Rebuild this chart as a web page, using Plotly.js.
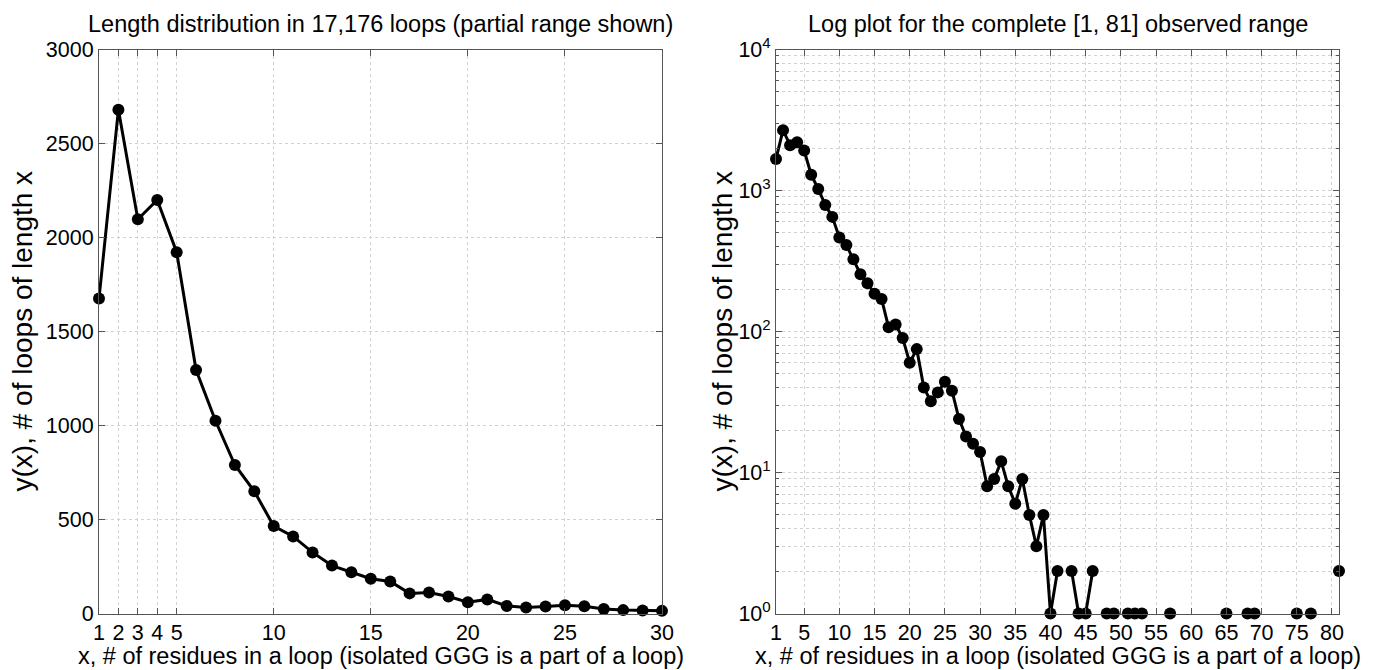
<!DOCTYPE html>
<html><head><meta charset="utf-8">
<script src="https://cdn.plot.ly/plotly-3.0.1.min.js"></script>
<style>html,body{margin:0;padding:0;background:#fff}#chart{width:1379px;height:670px}</style>
</head><body><div id="chart"></div>
<script>
// loop length (residues) and number of loops observed at that length (0 = none observed)
const loopLength = [];
for (let i = 1; i <= 81; i++) loopLength.push(i);
const loopCount = [
  1675, 2680, 2097, 2200, 1922, 1295, 1025, 790, 650, 465,
  410, 325, 255, 220, 185, 170, 107, 112, 90, 60,
  75, 40, 32, 37, 44, 38, 24, 18, 16, 14,
  8, 9, 12, 8, 6, 9, 5, 3, 5, 1,
  2, 0, 2, 1, 1, 2, 0, 1, 1, 0,
  1, 1, 1, 0, 0, 0, 1, 0, 0, 0,
  0, 0, 0, 0, 1, 0, 0, 1, 1, 0,
  0, 0, 0, 0, 1, 0, 1, 0, 0, 0,
  2
];
const partialMax = 30;
const leftXTicks = [1, 2, 3, 4, 5, 10, 15, 20, 25, 30];
const leftYTicks = [0, 500, 1000, 1500, 2000, 2500, 3000];
const rightXTicks = [1, 5, 10, 15, 20, 25, 30, 35, 40, 45, 50, 55, 60, 65, 70, 75, 80];
const rightYTicks = [1, 10, 100, 1000, 10000];
const rightYTickText = ['10<sup>0</sup>', '10<sup>1</sup>', '10<sup>2</sup>', '10<sup>3</sup>', '10<sup>4</sup>'];
const minorLog = [];
for (let d = 1; d <= 1000; d *= 10) for (let m = 2; m <= 9; m++) minorLog.push(m * d);

const titleLeft = 'Length distribution in 17,176 loops (partial range shown)';
const titleRight = 'Log plot for the complete [1, 81] observed range';
const xTitle = 'x, # of residues in a loop (isolated GGG is a part of a loop)';
const yTitle = 'y(x), # of loops of length x';

const partX = loopLength.slice(0, partialMax);
const partY = loopCount.slice(0, partialMax);
const logY = loopCount.map(v => v > 0 ? v : null);

const FONT = '"Liberation Sans", Arial, Helvetica, sans-serif';
const lineStyle = {color: '#000', width: 3};
const markerStyle = {color: '#000', size: 12};

const traces = [
  {x: partX, y: partY, type: 'scatter', mode: 'lines+markers', line: lineStyle, marker: markerStyle,
   xaxis: 'x', yaxis: 'y', cliponaxis: false, showlegend: false, hoverinfo: 'x+y'},
  {x: loopLength, y: logY, type: 'scatter', mode: 'lines+markers', line: lineStyle, marker: markerStyle,
   connectgaps: false, xaxis: 'x2', yaxis: 'y2', cliponaxis: false, showlegend: false, hoverinfo: 'x+y'}
];

const axisCommon = {
  showline: true, linecolor: '#555', linewidth: 1, mirror: 'ticks',
  ticks: 'inside', ticklen: 6, tickcolor: '#555', tickwidth: 1,
  showgrid: true, gridcolor: '#d2d2d2', griddash: 'dot', gridwidth: 1,
  zeroline: false, tickfont: {family: FONT, size: 21.5, color: '#000'},
  automargin: false
};

const boxL = {x0: 99, x1: 662}, boxR = {x0: 776, x1: 1339};
const plotTop = 49.5, plotBot = 613.5, W = 1379, H = 670;
const yDom = [(H - plotBot) / H, (H - plotTop) / H];
const tFont = {family: FONT, size: 23.5, color: '#000'};
const yFont = {family: FONT, size: 28, color: '#000'};
function ann(text, px, py, font, angle) {
  return {text: text, x: px / W, y: 1 - py / H, xref: 'paper', yref: 'paper', xanchor: 'center',
          yanchor: 'middle', showarrow: false, font: font, textangle: angle || 0};
}

const layout = {
  width: W, height: H,
  margin: {l: 0, r: 0, t: 0, b: 0},
  paper_bgcolor: '#fff', plot_bgcolor: '#fff',
  font: {family: FONT, color: '#000'},
  showlegend: false,
  xaxis: Object.assign({}, axisCommon, {
    domain: [boxL.x0 / W, boxL.x1 / W], range: [1, 30],
    tickmode: 'array', tickvals: leftXTicks, ticktext: leftXTicks.map(String), anchor: 'y'
  }),
  yaxis: Object.assign({}, axisCommon, {
    domain: yDom, range: [0, 3000],
    tickmode: 'array', tickvals: leftYTicks, ticktext: leftYTicks.map(String), anchor: 'x'
  }),
  xaxis2: Object.assign({}, axisCommon, {
    domain: [boxR.x0 / W, boxR.x1 / W], range: [1, 81],
    tickmode: 'array', tickvals: rightXTicks, ticktext: rightXTicks.map(String), anchor: 'y2'
  }),
  yaxis2: Object.assign({}, axisCommon, {
    domain: yDom, type: 'log', range: [0, 4],
    tickmode: 'array', tickvals: rightYTicks, ticktext: rightYTickText, anchor: 'x2',
    minor: {tickmode: 'array', tickvals: minorLog, ticks: 'inside', ticklen: 3, tickcolor: '#555',
            showgrid: true, gridcolor: '#d2d2d2', griddash: 'dot', gridwidth: 1}
  }),
  annotations: [
    ann(titleLeft, (boxL.x0 + boxL.x1) / 2, 24, tFont),
    ann(titleRight, (boxR.x0 + boxR.x1) / 2, 24, tFont),
    ann(xTitle, (boxL.x0 + boxL.x1) / 2, 656, tFont),
    ann(xTitle, (boxR.x0 + boxR.x1) / 2, 656, tFont),
    ann(yTitle, 22, (plotTop + plotBot) / 2, yFont, -90),
    ann(yTitle, 722, (plotTop + plotBot) / 2, yFont, -90)
  ]
};

Plotly.newPlot('chart', traces, layout, {staticPlot: true, displayModeBar: false});
</script>
</body></html>
